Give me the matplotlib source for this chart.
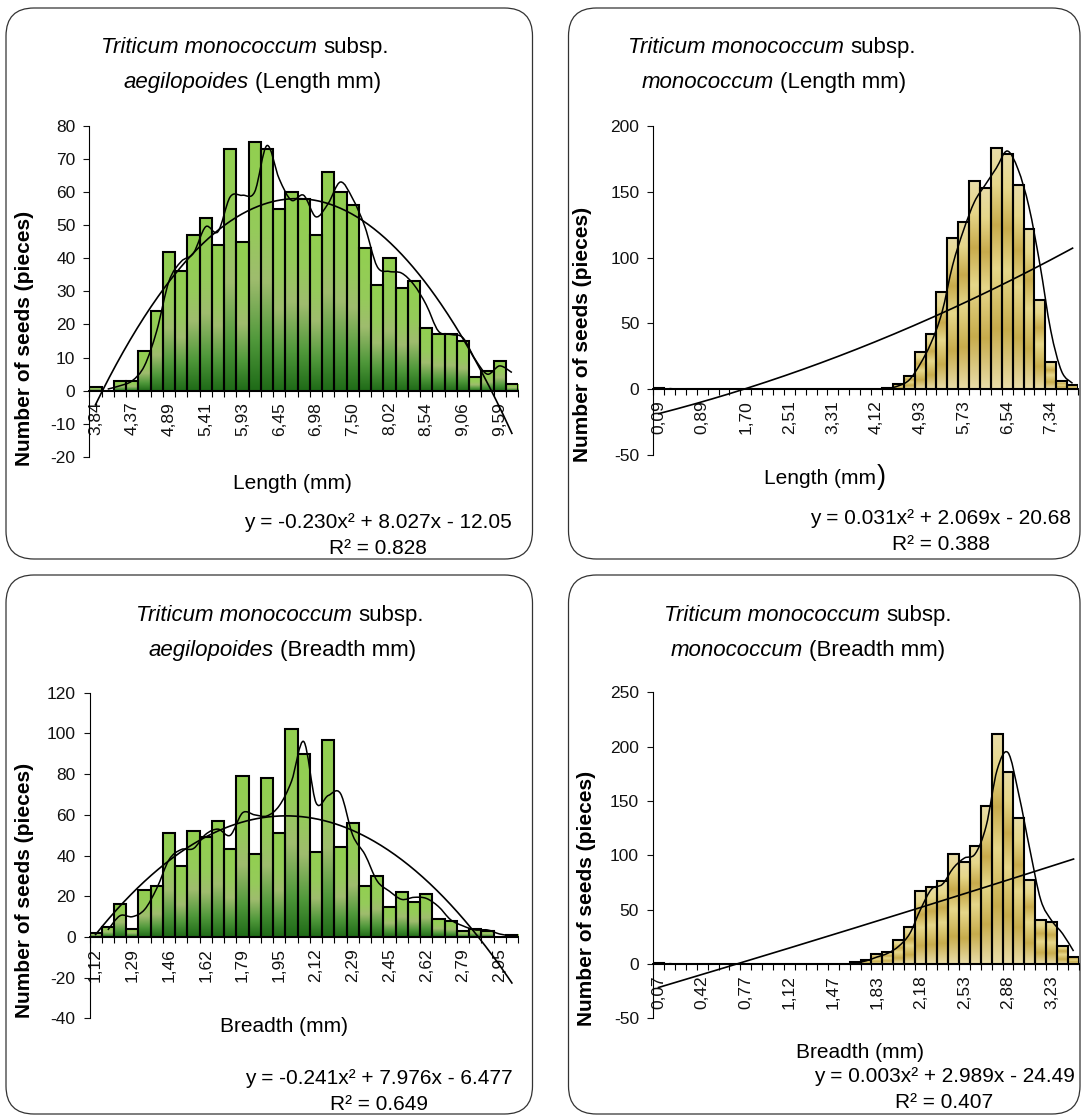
import numpy as np
import matplotlib
matplotlib.use("Agg")
import matplotlib.pyplot as plt
from matplotlib.colors import LinearSegmentedColormap
from matplotlib.patches import FancyBboxPatch, PathPatch
from matplotlib.path import Path

plt.rcParams['font.family'] = ['Liberation Sans', 'DejaVu Sans']
plt.rcParams['axes.unicode_minus'] = False

W, H = 1081, 1117

# ---- data (counts per size class) ----
len_aeg_labels = ["3,84", "4,37", "4,89", "5,41", "5,93", "6,45", "6,98", "7,50",
                  "8,02", "8,54", "9,06", "9,59"]
len_aeg_counts = [1, 0, 3, 3, 12, 24, 42, 36, 47, 52, 44, 73, 45, 75, 73, 55, 60, 58,
                  47, 66, 60, 56, 43, 32, 40, 31, 33, 19, 17, 17, 15, 4, 6, 9, 2]

len_mono_labels = ["0,09", "0,89", "1,70", "2,51", "3,31", "4,12", "4,93", "5,73",
                   "6,54", "7,34"]
len_mono_counts = [1] + [0] * 20 + [1, 4, 10, 28, 42, 74, 115, 127, 158, 153, 183,
                                    179, 155, 122, 68, 21, 6, 3]

br_aeg_labels = ["1,12", "1,29", "1,46", "1,62", "1,79", "1,95", "2,12", "2,29",
                 "2,45", "2,62", "2,79", "2,95"]
br_aeg_counts = [2, 5, 16, 4, 23, 25, 51, 35, 52, 49, 57, 43, 79, 41, 78, 51, 102, 90,
                 42, 97, 44, 56, 25, 30, 15, 22, 17, 21, 9, 8, 3, 4, 3, 0, 1]

br_mono_labels = ["0,07", "0,42", "0,77", "1,12", "1,47", "1,83", "2,18", "2,53",
                  "2,88", "3,23"]
br_mono_counts = [1] + [0] * 17 + [2, 4, 9, 11, 22, 34, 67, 71, 76, 101, 94, 109, 145,
                                   212, 177, 134, 77, 41, 39, 17, 7]

# trendline coefficients (a, b, c) as printed on the chart
len_aeg_trend = (-0.230, 8.027, -12.05)
len_mono_trend = (0.031, 2.069, -20.68)
br_aeg_trend = (-0.241, 7.976, -6.477)
br_mono_trend = (0.003, 2.989, -24.49)

green = LinearSegmentedColormap.from_list("green", [
    (0.0, "#92d050"), (0.35, "#95cb5a"), (0.55, "#9fbc6e"), (0.8, "#4f983a"), (1.0, "#1e6a17")])
gold = LinearSegmentedColormap.from_list("gold", [
    (0.0, "#e9dda9"), (0.15, "#e6d78a"), (0.32, "#c8ab4c"), (0.5, "#e6d78a"),
    (0.75, "#c7ac4c"), (1.0, "#e9dda9")])

fig = plt.figure(figsize=(W / 100, H / 100), dpi=100)
bg = fig.add_axes([0, 0, 1, 1])
bg.set_xlim(0, W)
bg.set_ylim(H, 0)
bg.axis('off')

# rounded frames round each chart
for x0, y0, x1, y1 in [(6, 8, 532.5, 559), (568.5, 8, 1080, 559),
                       (6, 575, 532.5, 1114), (568.5, 575, 1080, 1114)]:
    bg.add_patch(FancyBboxPatch((x0, y0), x1 - x0, y1 - y0,
                                boxstyle="round,pad=0,rounding_size=28",
                                fc='none', ec='#333333', lw=0.9))


def px_axes(x0, x1, y_top, y_bot):
    return fig.add_axes([x0 / W, 1 - y_bot / H, (x1 - x0) / W, (y_bot - y_top) / H])


def smooth_path(x, y):
    # Bezier smoothing like the spreadsheet "smoothed line"
    pts = np.column_stack([x, y]).astype(float)
    verts = [pts[0]]
    codes = [Path.MOVETO]
    for k in range(len(pts) - 1):
        p0 = pts[k - 1] if k > 0 else pts[k]
        p1, p2 = pts[k], pts[k + 1]
        p3 = pts[k + 2] if k + 2 < len(pts) else pts[k + 1]
        verts += [p1 + (p2 - p0) / 6, p2 - (p3 - p1) / 6, p2]
        codes += [Path.CURVE4] * 3
    return Path(verts, codes)


def draw_panel(ax, counts, labels, step, ylim, yticks, trend, cmap):
    counts = np.array(counts, dtype=float)
    n = len(counts)
    idx = np.arange(n)
    grad = np.linspace(0, 1, 256).reshape(-1, 1)
    for i, c in enumerate(counts):
        if c > 0:
            ax.imshow(grad, extent=(i - 0.5, i + 0.5, 0, c), origin='upper',
                      aspect='auto', cmap=cmap, zorder=2, interpolation='bilinear')
    ax.bar(idx, counts, width=1.0, fill=False, edgecolor='black', linewidth=1.5, zorder=3)

    # 2-period moving average
    ma = (counts[1:] + counts[:-1]) / 2
    ax.add_patch(PathPatch(smooth_path(idx[1:], ma), fill=False, ec='black', lw=1.1, zorder=4))

    # polynomial trendline
    a, b, c = trend
    xs = np.linspace(0, n - 1, 300)
    ax.plot(xs, a * (xs + 1) ** 2 + b * (xs + 1) + c, color='black', lw=1.2, zorder=4)

    ax.set_xlim(-0.5, n - 0.5)
    ax.set_ylim(*ylim)
    ax.set_facecolor('none')
    for s in ['top', 'right']:
        ax.spines[s].set_visible(False)
    ax.spines['bottom'].set_position(('data', 0))
    ax.spines['bottom'].set_linewidth(1.4)
    ax.spines['bottom'].set_zorder(5)
    ax.spines['left'].set_linewidth(0.8)
    ax.set_yticks(yticks)
    ax.tick_params(axis='y', direction='out', length=4, width=0.8, pad=6,
                   labelsize=12.5, colors='#111111')
    ax.set_xticks(idx[::step])
    ax.set_xticklabels(labels, rotation=90)
    ax.set_xticks(np.arange(-0.5, n), minor=True)
    ax.tick_params(axis='x', which='major', length=0, pad=8, labelsize=12.5, colors='#111111')
    ax.tick_params(axis='x', which='minor', direction='out', length=4, width=0.8)


ax1 = px_axes(89.3, 518, 125.7, 457)
draw_panel(ax1, len_aeg_counts, len_aeg_labels, 3, (-20, 80), range(-20, 81, 10),
           len_aeg_trend, green)
ax2 = px_axes(653.2, 1078, 126, 455)
draw_panel(ax2, len_mono_counts, len_mono_labels, 4, (-50, 200), range(-50, 201, 50),
           len_mono_trend, gold)
ax3 = px_axes(89.5, 518, 692.7, 1018.5)
draw_panel(ax3, br_aeg_counts, br_aeg_labels, 3, (-40, 120), range(-40, 121, 20),
           br_aeg_trend, green)
ax4 = px_axes(653, 1079, 692.3, 1018.5)
draw_panel(ax4, br_mono_counts, br_mono_labels, 4, (-50, 250), range(-50, 251, 50),
           br_mono_trend, gold)

renderer = fig.canvas.get_renderer()


def rich_text(x, y, parts, size, gap=True):
    # parts: (text, style, size factor) drawn in a row, centred at x, baseline y
    objs = [bg.text(0, y, s, fontsize=size * f, style=st, va='baseline', ha='left')
            for s, st, f in parts]
    t1 = bg.text(0, 0, "a a", fontsize=size)
    t2 = bg.text(0, 0, "aa", fontsize=size)
    space = t1.get_window_extent(renderer).width - t2.get_window_extent(renderer).width
    t1.remove()
    t2.remove()
    widths = [o.get_window_extent(renderer).width for o in objs]
    sp = space if gap else 0
    total = sum(widths) + sp * (len(objs) - 1)
    cur = x - total / 2
    for o, w in zip(objs, widths):
        o.set_x(cur)
        cur += w + sp


title_size = 16
for cx, cx2, y1, name2, unit in [(245, 252, 53, "aegilopoides", "(Length mm)"),
                                 (772, 774, 53, "monococcum", "(Length mm)"),
                                 (280, 282, 621, "aegilopoides", "(Breadth mm)"),
                                 (808, 808, 621, "monococcum", "(Breadth mm)")]:
    rich_text(cx, y1, [("Triticum monococcum", 'italic', 1), ("subsp.", 'normal', 1)], title_size)
    rich_text(cx2, y1 + 35, [(name2, 'italic', 1), (unit, 'normal', 1)], title_size)

# y axis titles
for x, y in [(25, 338), (583, 334), (25, 890), (586, 898)]:
    bg.text(x, y, "Number of seeds (pieces)", fontsize=15, fontweight='bold',
            rotation=90, ha='center', va='center')

# x axis titles
lab = 15
rich_text(292, 489, [("Length (mm)", 'normal', 1)], lab)
rich_text(825, 484, [("Length (mm", 'normal', 1), (")", 'normal', 1.3)], lab, gap=False)
rich_text(284, 1032.5, [("Breadth (mm)", 'normal', 1)], lab)
rich_text(860, 1057.5, [("Breadth (mm)", 'normal', 1)], lab)

# trendline equations
for x, y, eq, r2 in [(378, 527.5, "y = -0.230x² + 8.027x - 12.05", "R² = 0.828"),
                     (941, 524.5, "y = 0.031x² + 2.069x - 20.68", "R² = 0.388"),
                     (379, 1084.5, "y = -0.241x² + 7.976x - 6.477", "R² = 0.649"),
                     (944, 1082.5, "y = 0.003x² + 2.989x - 24.49", "R² = 0.407")]:
    bg.text(x, y, eq, fontsize=lab, ha='center', va='baseline')
    bg.text(x, y + 26, r2, fontsize=lab, ha='center', va='baseline')

fig.savefig("out.png", dpi=100)
